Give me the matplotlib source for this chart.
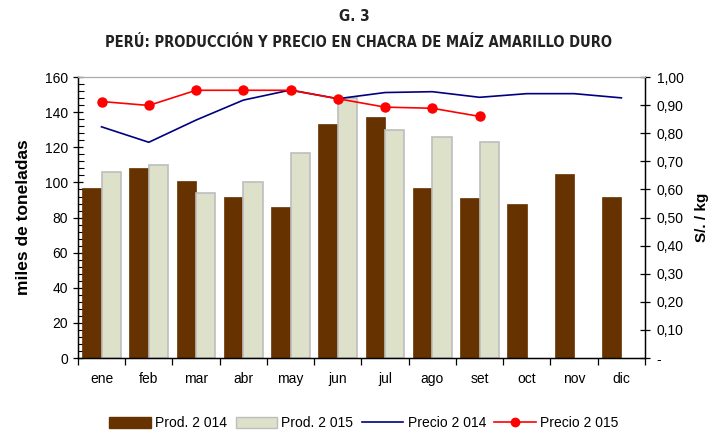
import numpy as np
import matplotlib
matplotlib.use("Agg")
import matplotlib.pyplot as plt
from matplotlib.ticker import MultipleLocator, FuncFormatter
from matplotlib.lines import Line2D
from matplotlib.patches import Patch

plt.rcParams["font.family"] = ["Liberation Sans", "DejaVu Sans"]

months = ["ene", "feb", "mar", "abr", "may", "jun", "jul", "ago", "set", "oct", "nov", "dic"]
prod_2014 = [97, 108, 101, 92, 86, 133, 137, 97, 91, 88, 105, 92]
prod_2015 = [106, 110, 94, 100, 117, 148, 130, 126, 123]
precio_2014 = [0.823, 0.768, 0.847, 0.918, 0.954, 0.923, 0.945, 0.948, 0.928, 0.941, 0.941, 0.926]
precio_2015 = [0.913, 0.899, 0.953, 0.953, 0.953, 0.923, 0.893, 0.889, 0.860]

brown = "#663300"
light = "#DEE1C9"

fig = plt.figure(figsize=(7.28, 4.33), dpi=100)
ax = fig.add_axes([0.107, 0.173, 0.779, 0.649])

x = np.arange(len(months))
w = 0.41
ax.bar(x - w / 2, prod_2014, width=w, color=brown, edgecolor=brown, linewidth=0.5, zorder=2)
ax.bar(x[:len(prod_2015)] + w / 2, prod_2015, width=w, color=light, edgecolor="#BDBDBD", linewidth=1.2, zorder=2)

ax.set_xlim(-0.5, 11.5)
ax.set_ylim(0, 160)
ax.yaxis.set_major_locator(MultipleLocator(20))
ax.yaxis.set_minor_locator(MultipleLocator(4))
ax.tick_params(axis="y", which="major", direction="inout", length=7, labelsize=10, width=0.9)
ax.tick_params(axis="y", which="minor", direction="in", length=4, width=0.8)
ax.set_xticks(x)
ax.set_xticklabels(months)
ax.set_xticks(np.arange(-0.5, 12, 1), minor=True)
ax.tick_params(axis="x", which="major", length=0, labelsize=10, pad=10)
ax.tick_params(axis="x", which="minor", direction="out", length=5, width=0.9)
ax.set_ylabel("miles de toneladas", fontsize=12.5, fontweight="bold", labelpad=10)

ax.spines["top"].set_color("#AAAAAA")
for s in ("left", "bottom", "right"):
    ax.spines[s].set_linewidth(1.0)

ax2 = ax.twinx()
ax2.set_ylim(0, 1.0)
ax2.yaxis.set_major_locator(MultipleLocator(0.1))
ax2.yaxis.set_major_formatter(FuncFormatter(lambda v, p: "-" if abs(v) < 1e-9 else f"{v:.2f}".replace(".", ",")))
ax2.tick_params(axis="y", direction="inout", length=7, labelsize=10, width=0.9, pad=5)
ax2.plot(x, precio_2014, color="#000080", linewidth=1.2, zorder=3)
ax2.plot(x[:len(precio_2015)], precio_2015, color="#FF0000", linewidth=1.2,
         marker="o", markersize=6.5, zorder=4)
ax2.set_ylabel("S/. / kg", fontsize=11, fontweight="bold", labelpad=8)
ax2.spines["top"].set_color("#AAAAAA")

fig.text(0.487, 0.963, "G. 3", ha="center", va="center", fontsize=11, fontweight="bold",
         family="DejaVu Sans", stretch="condensed", color="#222222")
fig.text(0.493, 0.903, "PERÚ: PRODUCCIÓN Y PRECIO EN CHACRA DE MAÍZ AMARILLO DURO",
         ha="center", va="center", fontsize=10.5, fontweight="bold",
         family="DejaVu Sans", stretch="condensed", color="#222222")

handles = [
    Patch(facecolor=brown, edgecolor=brown),
    Patch(facecolor=light, edgecolor="#BDBDBD"),
    Line2D([], [], color="#000080", linewidth=1.2),
    Line2D([], [], color="#FF0000", linewidth=1.2, marker="o", markersize=6),
]
labels = ["Prod. 2 014", "Prod. 2 015", "Precio 2 014", "Precio 2 015"]
fig.legend(handles, labels, loc="center", bbox_to_anchor=(0.5, 0.022), ncol=4, frameon=False,
           fontsize=10, handlelength=3, handletextpad=0.3, columnspacing=0.6, handleheight=0.9)

fig.savefig("out.png", dpi=100)
